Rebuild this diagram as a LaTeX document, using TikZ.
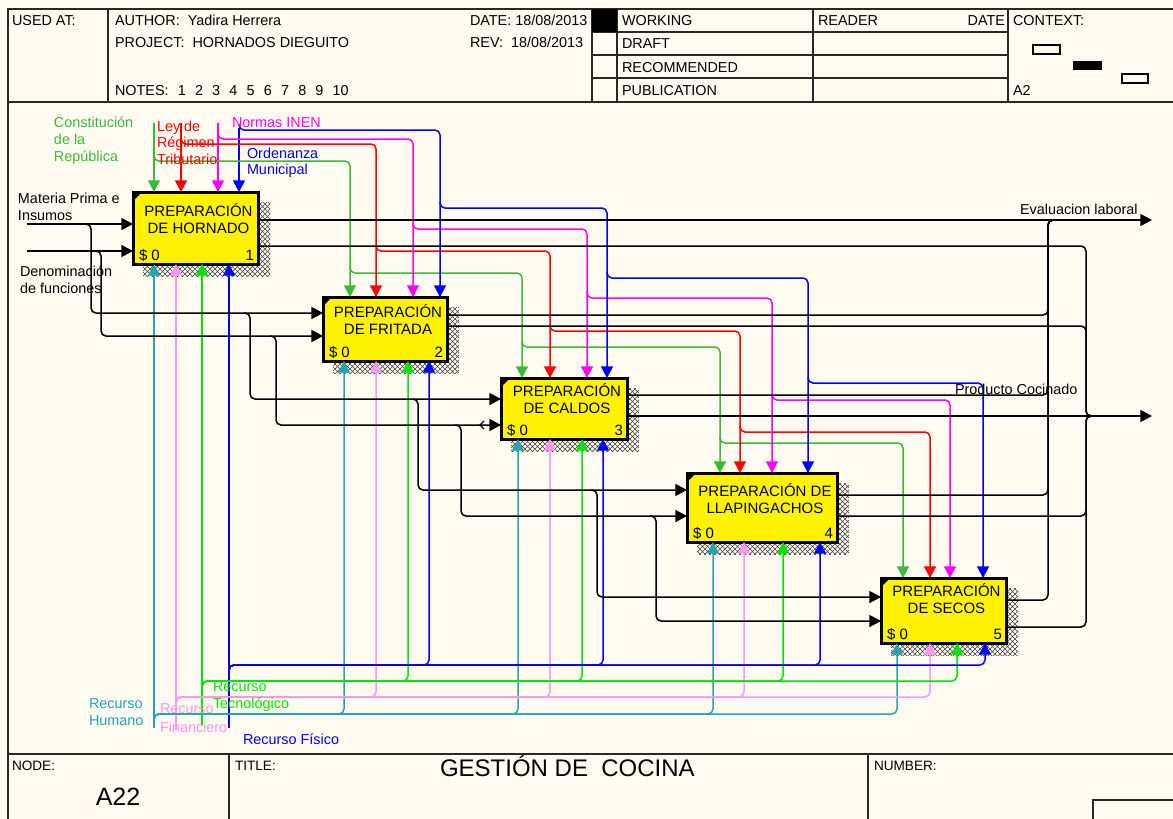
\documentclass[tikz,border=0pt]{standalone}
\usepackage{fontspec}
\setmainfont{Liberation Sans}
\usetikzlibrary{arrows.meta, patterns, fit, calc, positioning}
\definecolor{paper}{RGB}{255,251,240}
\definecolor{frame}{RGB}{40,40,40}
\definecolor{ctlgreen}{RGB}{60,185,60}
\definecolor{ctlred}{RGB}{255,0,0}
\definecolor{ctlmag}{RGB}{255,0,255}
\definecolor{ctlblue}{RGB}{0,0,255}
\definecolor{mecteal}{RGB}{40,165,170}
\definecolor{mecpink}{RGB}{255,150,240}
\definecolor{mecgreen}{RGB}{0,230,0}
\definecolor{mecblue}{RGB}{0,0,255}
\pgfdeclarepatternformonly{shadowx}{\pgfqpoint{-0.1pt}{-0.1pt}}{\pgfqpoint{2.6pt}{2.6pt}}{\pgfqpoint{2.5pt}{2.5pt}}{%
    \pgfsetlinewidth{0.3pt}
    \pgfpathmoveto{\pgfqpoint{0pt}{0pt}}\pgfpathlineto{\pgfqpoint{2.5pt}{2.5pt}}
    \pgfpathmoveto{\pgfqpoint{0pt}{2.5pt}}\pgfpathlineto{\pgfqpoint{2.5pt}{0pt}}
    \pgfusepath{stroke}}

\begin{document}
\begin{tikzpicture}[x=0.5pt, y=-0.5pt,
    every node/.style={inner sep=0pt, outer sep=0pt, font=\fontsize{7.2}{8.6}\selectfont},
    frameline/.style={draw=frame, line width=1pt},
    actbox/.style={draw=black, fill=yellow, line width=1.5pt},
    boxtxt/.style={font=\fontsize{7.5}{9}\selectfont, anchor=mid},
    boxshadow/.style={pattern=shadowx, pattern color=black!75},
    flow/.style={line width=0.75pt, rounded corners=2.5pt},
    arr/.style={-{Triangle[length=5.8pt, width=6pt]}},
    lbl/.style={anchor=mid west}]
    \fill[paper] (0,0) rectangle (1173,819);
    \useasboundingbox (0,0) rectangle (1173,819);

    % frame, header and footer
    \draw[frameline] (8,819) -- (8,9) -- (1173,9);
    \draw[frameline] (8,102) -- (1173,102);
    \draw[frameline] (8,754) -- (1173,754);
    \foreach \x in {108,592,617,813,1008}
        \draw[frameline] (\x,9) -- (\x,102);
    \foreach \y in {32,55,78}
        \draw[frameline] (592,\y) -- (1008,\y);
    \fill[black] (592,9) rectangle (617,32);
    \foreach \x in {229,868}
        \draw[frameline] (\x,754) -- (\x,819);
    \draw[frameline] (1093,819) -- (1093,800) -- (1173,800);

    \node[lbl] (usedat) at (12,20) {USED AT:};
    \node[lbl] (author) at (115,20) {AUTHOR:\ \ Yadira Herrera};
    \node[lbl] (project) at (115,42) {PROJECT:\ \ HORNADOS DIEGUITO};
    \node[lbl] (notes) at (115,90) {NOTES:\hspace{4.6pt}1\hspace{4.6pt}2\hspace{4.6pt}3\hspace{4.6pt}4\hspace{4.6pt}5\hspace{4.6pt}6\hspace{4.6pt}7\hspace{4.6pt}8\hspace{4.6pt}9\hspace{4.6pt}10};
    \node[lbl] (date) at (470,20) {DATE: 18/08/2013};
    \node[lbl] (rev) at (470,42) {REV:\ \ 18/08/2013};
    \node[lbl] (working) at (622,20) {WORKING};
    \node[lbl] (draft) at (622,43) {DRAFT};
    \node[lbl] (recom) at (622,67) {RECOMMENDED};
    \node[lbl] (public) at (622,90) {PUBLICATION};
    \node[lbl] (reader) at (818,20) {READER};
    \node[anchor=mid east] (rdate) at (1005,20) {DATE};
    \node[lbl] (context) at (1013,20) {CONTEXT:};
    \node[lbl] (ctxnode) at (1013,90) {A2};
    \draw[line width=0.7pt] (1033,45) rectangle (1060,54);
    \fill[black] (1073,61) rectangle (1102,70);
    \draw[line width=0.7pt] (1122,74) rectangle (1148,83);

    \node[lbl, font=\fontsize{6.8}{8}\selectfont] (nodelbl) at (12,765) {NODE:};
    \node[font=\fontsize{12.5}{14}\selectfont] (nodeno) at (118,797) {A22};
    \node[lbl, font=\fontsize{6.8}{8}\selectfont] (titlelbl) at (235,765) {TITLE:};
    \node[lbl, font=\fontsize{12}{14}\selectfont] (title) at (440,771) {GESTIÓN DE\ \ COCINA};
    \node[lbl, font=\fontsize{6.8}{8}\selectfont] (numlbl) at (874,765) {NUMBER:};

    % activity boxes
    \foreach \n/\xa/\ya/\xb/\yb/\dy/\ta/\tb/\k in {
        b1/133/192/258/264/19/PREPARACIÓN/DE HORNADO/1,
        b2/323/297/447/361/15/PREPARACIÓN/DE FRITADA/2,
        b3/501/378/627/439/13/PREPARACIÓN/DE CALDOS/3,
        b4/687/473/837/542/18/PREPARACIÓN DE/LLAPINGACHOS/4,
        b5/881/578/1006/643/13/PREPARACIÓN/DE SECOS/5}{
        \fill[boxshadow] (\xa+10,\ya+10) rectangle (\xb+12,\yb+12);
        \node[actbox, fit={(\xa,\ya) (\xb,\yb)}] (\n) {};
        \fill (\n.north west) -- ++(9,0) -- ++(-9,9) -- cycle;
        \node[boxtxt] (\n-l1) at ($(\n.north)+(3,\dy)$) {\ta};
        \node[boxtxt] (\n-l2) at ($(\n.north)+(3,\dy+17)$) {\tb};
        \node[anchor=mid west, font=\fontsize{7.5}{9}\selectfont] (\n-cost) at ($(\n.south west)+(6,-9)$) {\$ 0};
        \node[anchor=mid east, font=\fontsize{7.5}{9}\selectfont] (\n-num) at ($(\n.south east)+(-4,-9)$) {\k};
    }

    % controls
    \foreach \col/\x/\y in {ctlgreen/154/123, ctlred/181/123, ctlmag/218/123, ctlblue/239/128}
        \draw[flow, arr, \col] (\x,\y) -- (\x,0 |- b1.north);
    \foreach \col/\xa/\yb/\xb/\bx in {
        ctlgreen/154/161/350/b2, ctlgreen/350/273/522/b3, ctlgreen/522/347/720/b4, ctlgreen/720/443/903/b5,
        ctlred/181/144/376/b2, ctlred/376/251/550/b3, ctlred/550/331/740/b4, ctlred/740/432/930/b5,
        ctlmag/218/139/413/b2, ctlmag/413/229/587/b3, ctlmag/587/298/772/b4, ctlmag/772/400/950/b5,
        ctlblue/239/130/440/b2, ctlblue/440/208/607/b3, ctlblue/607/278/808/b4, ctlblue/808/383/983/b5}
        \draw[flow, arr, \col] (\xa,\yb-6) |- (\xb,\yb) -- (\xb,0 |- \bx.north);

    % mechanisms
    \foreach \col/\x/\y in {mecteal/154/728, mecpink/176/730, mecgreen/202/725, mecblue/229/728}
        \draw[flow, arr, \col] (\x,\y) -- (\x,0 |- b1.south);
    \foreach \col/\xa/\yb/\xb/\bx in {
        mecteal/154/714/344/b2, mecteal/154/714/518/b3, mecteal/154/714/713/b4, mecteal/154/714/897/b5,
        mecpink/176/697/376/b2, mecpink/176/697/550/b3, mecpink/176/697/744/b4, mecpink/176/697/930/b5,
        mecgreen/202/681/408/b2, mecgreen/202/681/582/b3, mecgreen/202/681/783/b4, mecgreen/202/681/957/b5,
        mecblue/229/665/429/b2, mecblue/229/665/603/b3, mecblue/229/665/820/b4, mecblue/229/665/985/b5}
        \draw[flow, arr, \col] (\xa,\yb+6) |- (\xb,\yb) -- (\xb,0 |- \bx.south);

    % inputs
    \coordinate (in1) at (27,224);
    \coordinate (in2) at (27,251);
    \draw[flow, arr] (in1) -- (in1 -| b1.west);
    \draw[flow, arr] (in2) -- (in2 -| b1.west);
    \foreach \xa/\ya/\xv/\yb/\bx in {
        85/224/91/313/b2, 95/251/101/336/b2, 244/313/250/399/b3, 270/336/276/425/b3,
        412/399/418/490/b4, 455/425/461/516/b4, 591/490/597/597/b5, 650/516/656/621/b5}
        \draw[flow, arr] (\xa,\ya) -| (\xv,\yb) -- (\xv,\yb -| \bx.west);
    \draw[line width=0.6pt] (484,421) -- (480,425) -- (484,429);

    % outputs
    \coordinate (evl) at (1152,220);
    \coordinate (prc) at (1152,416);
    \draw[flow, arr] (b1.east |- evl) -- (evl);
    \draw[flow, arr] (b3.east |- prc) -- (prc);
    \foreach \bx/\y in {b2/315, b3/395, b4/495, b5/600}
        \draw[flow] (\bx.east |- 0,\y) -| (1048,220) -- (1060,220);
    \foreach \bx/\y in {b1/246, b2/326, b4/516, b5/627}
        \draw[flow] (\bx.east |- 0,\y) -| (1086,416) -- (1098,416);

    % labels
    \foreach \col/\x/\y/\t [count=\i] in {
        ctlgreen/54/122/Constitución, ctlgreen/54/139/de la, ctlgreen/54/156/República,
        ctlred/157/126/Ley de, ctlred/157/142/Régimen, ctlred/157/159/Tributario,
        ctlmag/232/122/Normas INEN,
        ctlblue/247/153/Ordenanza, ctlblue/247/169/Municipal,
        black/18/198/Materia Prima e, black/18/215/Insumos,
        black/20/271/Denominación, black/20/288/de funciones,
        mecteal/89/703/Recurso, mecteal/89/720/Humano,
        mecpink/160/708/Recurso, mecpink/160/727/Financiero,
        mecgreen/213/686/Recurso, mecgreen/213/703/Tecnológico,
        mecblue/243/739/Recurso Físico,
        black/1020/209/Evaluacion laboral,
        black/955/389/Producto Cocinado}
        \node[lbl, text=\col] (lab\i) at (\x,\y) {\t};
\end{tikzpicture}
\end{document}
